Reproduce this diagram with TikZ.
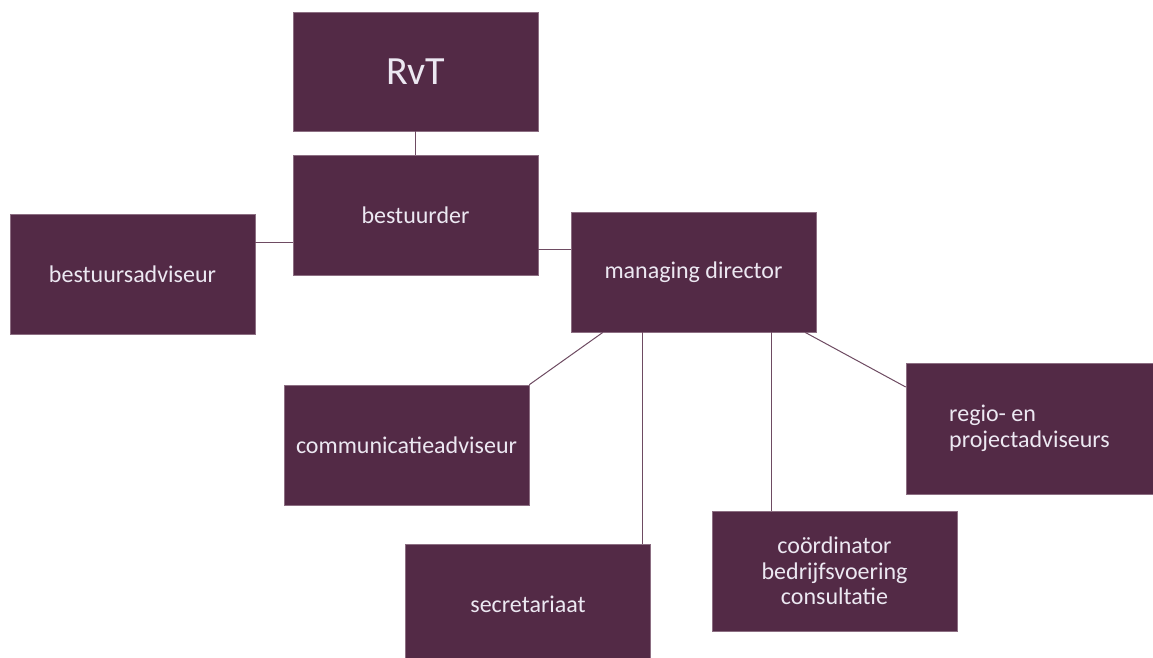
\documentclass[tikz,border=0pt]{standalone}
\usepackage{fontspec}
\setmainfont{Carlito}
\usetikzlibrary{calc}
\definecolor{boxfill}{RGB}{83,42,70}
\definecolor{boxedge}{RGB}{140,110,130}
\definecolor{linkcol}{RGB}{110,75,98}
\definecolor{txtcol}{RGB}{236,232,242}
\begin{document}
\begin{tikzpicture}[x=1pt,y=-1pt,
  orgbox/.style={rectangle, fill=boxfill, draw=boxedge, line width=0.6pt,
    minimum width=245pt, minimum height=120pt, inner sep=0pt,
    text=txtcol, font=\fontsize{24}{25.5}\selectfont, align=center},
  link/.style={draw=linkcol, line width=1pt}]
\useasboundingbox (0,0) rectangle (1153,658);
\fill[white] (0,0) rectangle (1153,658);
\node[orgbox, minimum height=119pt, font=\fontsize{40}{46}\selectfont] (rvt) at (415.5,71.5) {RvT};
\node[orgbox] (best) at (415.5,215) {bestuurder};
\node[orgbox] (ba) at (132.5,274) {bestuursadviseur};
\node[orgbox] (md) at (693.5,272) {managing director};
\node[orgbox] (comm) at (406.5,445) {communicatieadviseur};
\node[orgbox] (secr) at (528,604) {secretariaat};
\node[orgbox] (coord) at (834.5,571) {coördinator\\bedrijfsvoering\\consultatie};
\node[orgbox, minimum width=247pt, minimum height=131pt, align=left] (regio) at (1029.5,428.5) {regio- en\\projectadviseurs};

\draw[link] (rvt.south) -- (best.north);
\draw[link] ($(best.east)+(0,34)$) coordinate (b1) -- (b1 -| md.west);
\draw[link] ($(ba.east)+(0,-32)$) coordinate (b2) -- (b2 -| best.west);
\draw[link] ($(md.south)+(-90.5,0)$) -- (comm.north east);
\draw[link] ($(md.south)+(-51.5,0)$) coordinate (c1) -- (c1 |- secr.north);
\draw[link] ($(md.south)+(77.5,0)$) coordinate (c2) -- (c2 |- coord.north);
\draw[link] ($(md.south)+(111.5,0)$) -- ($(regio.west)+(0,-41.5)$);
\end{tikzpicture}
\end{document}
